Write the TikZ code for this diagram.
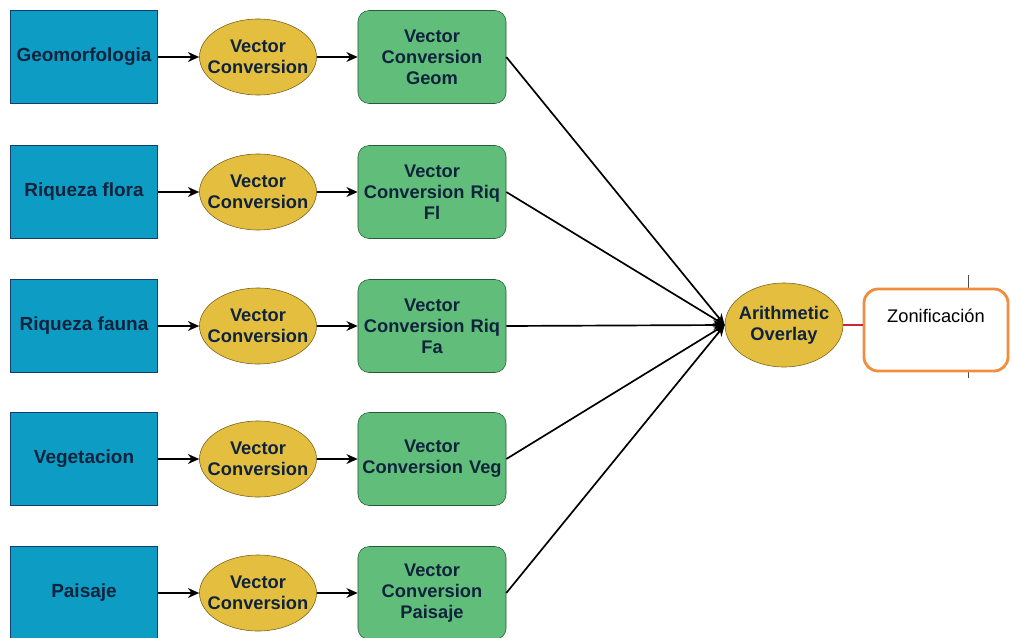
\documentclass[tikz,border=0pt]{standalone}
\usepackage{fontspec}
\setmainfont{Liberation Sans}
\usetikzlibrary{arrows.meta,shapes.geometric}
\definecolor{layerblue}{RGB}{12,156,196}
\definecolor{layerline}{RGB}{20,60,110}
\definecolor{layertext}{RGB}{15,35,60}
\definecolor{toolfill}{RGB}{228,190,62}
\definecolor{toolline}{RGB}{120,95,30}
\definecolor{outfill}{RGB}{96,190,122}
\definecolor{outline}{RGB}{40,90,55}
\definecolor{zonorange}{RGB}{240,142,62}
\definecolor{linkred}{RGB}{200,40,50}
\begin{document}
\begin{tikzpicture}[x=0.025cm, y=-0.025cm, >={Stealth[length=8pt,width=7pt]},
        layer/.style={draw=layerline, fill=layerblue, minimum width=3.675cm, minimum height=2.325cm, inner sep=1pt, font=\fontsize{13.5}{15}\selectfont\bfseries, text=layertext},
        tool/.style={ellipse, draw=toolline, fill=toolfill, minimum width=2.925cm, minimum height=1.9cm, inner xsep=-8pt, inner ysep=0pt, align=center, font=\fontsize{13}{15}\selectfont\bfseries, text=layertext},
        output/.style={draw=outline, fill=outfill, rounded corners=8pt, minimum width=3.7cm, minimum height=2.325cm, text width=3.6cm, inner sep=1pt, align=center, font=\fontsize{13}{15}\selectfont\bfseries, text=layertext},
        result/.style={draw=zonorange, line width=2pt, fill=white, rounded corners=10pt, minimum width=3.6cm, minimum height=2.05cm},
        flow/.style={->, line width=1.2pt}]
        \useasboundingbox (0,0) rectangle (1011,637);
        % input layers
        \node[layer] (geo) at (84,57) {Geomorfologia};
        \node[layer] (flora) at (84,192) {Riqueza flora};
        \node[layer] (fauna) at (84,326) {Riqueza fauna};
        \node[layer] (veg) at (84,459) {Vegetacion};
        \node[layer] (pais) at (84,593) {Paisaje};
        % conversion tools
        \node[tool] (convgeo) at (258,57) {Vector\\Conversion};
        \node[tool] (convflora) at (258,192) {Vector\\Conversion};
        \node[tool] (convfauna) at (258,326) {Vector\\Conversion};
        \node[tool] (convveg) at (258,459) {Vector\\Conversion};
        \node[tool] (convpais) at (258,593) {Vector\\Conversion};
        % converted layers
        \node[output] (outgeo) at (432,57) {Vector\\Conversion\\Geom};
        \node[output] (outflora) at (432,192) {Vector\\Conversion Riq\\Fl};
        \node[output] (outfauna) at (432,326) {Vector\\Conversion Riq\\Fa};
        \node[output] (outveg) at (432,459) {Vector\\Conversion Veg};
        \node[output] (outpais) at (432,593) {Vector\\Conversion\\Paisaje};
        % overlay and result
        \node[tool, minimum width=2.95cm, minimum height=2.1cm] (overlay) at (784,325) {Arithmetic\\Overlay};
        \coordinate (marktop) at (968,275);
        \coordinate (markbot) at (968,378);
        \draw[black!70, line width=0.6pt] (marktop) -- (markbot);
        \node[result] (zon) at (936,330) {};
        \node[font=\fontsize{13}{15}\selectfont, anchor=north] (zontext) at ([yshift=-0.42cm]zon.north) {Zonificación};
        \draw[flow] (geo) -- (convgeo);
        \draw[flow] (flora) -- (convflora);
        \draw[flow] (fauna) -- (convfauna);
        \draw[flow] (veg) -- (convveg);
        \draw[flow] (pais) -- (convpais);
        \draw[flow] (convgeo) -- (outgeo);
        \draw[flow] (convflora) -- (outflora);
        \draw[flow] (convfauna) -- (outfauna);
        \draw[flow] (convveg) -- (outveg);
        \draw[flow] (convpais) -- (outpais);
        \draw[flow] (outgeo.east) -- (overlay.west);
        \draw[flow] (outflora.east) -- (overlay.west);
        \draw[flow] (outfauna.east) -- (overlay.west);
        \draw[flow] (outveg.east) -- (overlay.west);
        \draw[flow] (outpais.east) -- (overlay.west);
        \draw[linkred, line width=1.2pt] (overlay.east) -- (overlay.east -| zon.west);
    \end{tikzpicture}
\end{document}
